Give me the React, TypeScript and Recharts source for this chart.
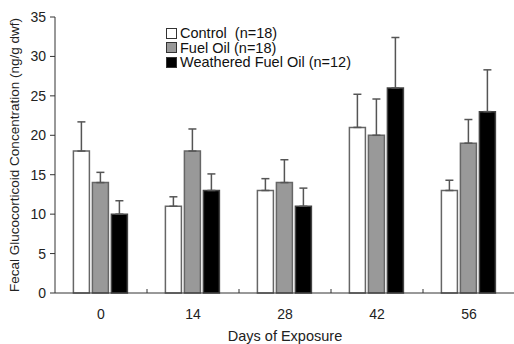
import { BarChart, Bar, XAxis, YAxis, ErrorBar } from 'recharts';

const days = ['0', '14', '28', '42', '56'];
const controlMean = [18, 11, 13, 21, 13];
const controlErr = [3.7, 1.2, 1.5, 4.2, 1.3];
const fuelMean = [14, 18, 14, 20, 19];
const fuelErr = [1.3, 2.8, 2.9, 4.6, 3];
const weatheredMean = [10, 13, 11, 26, 23];
const weatheredErr = [1.7, 2.1, 2.3, 6.4, 5.3];
const yTicks = [0, 5, 10, 15, 20, 25, 30, 35];

const legendItems = [
  { label: 'Control  (n=18)', fill: '#ffffff' },
  { label: 'Fuel Oil (n=18)', fill: '#999999' },
  { label: 'Weathered Fuel Oil (n=12)', fill: '#000000' },
];

const data = days.map((d, i) => ({
  day: d,
  control: controlMean[i],
  controlErr: [0, controlErr[i]],
  fuel: fuelMean[i],
  fuelErr: [0, fuelErr[i]],
  weathered: weatheredMean[i],
  weatheredErr: [0, weatheredErr[i]],
}));

const FONT = 'Arial, "Liberation Sans", sans-serif';

const DayTick = (props: any) => {
  const { x, y, payload, index } = props;
  const half = payload && payload.offset ? payload.offset : 46;
  return (
    <g>
      <text x={x} y={y + 26} textAnchor="middle" fontSize={14} fill="#222" fontFamily={FONT}>
        {payload.value}
      </text>
      {index < days.length - 1 && (
        <line x1={x + half} x2={x + half} y1={y} y2={y - 4} stroke="#333" strokeWidth={1} />
      )}
    </g>
  );
};

const LegendBox = () => (
  <div
    style={{
      position: 'absolute',
      left: 166,
      top: 26,
      fontFamily: FONT,
      fontSize: 14.5,
      color: '#111',
      lineHeight: '14.5px',
    }}
  >
    {legendItems.map((it) => (
      <div key={it.label} style={{ display: 'flex', alignItems: 'center', whiteSpace: 'pre' }}>
        <span
          style={{
            display: 'inline-block',
            width: 9,
            height: 9,
            background: it.fill,
            border: '1px solid #333',
            marginRight: 3,
          }}
        />
        {it.label}
      </div>
    ))}
  </div>
);

export default function App() {
  return (
    <div style={{ position: 'absolute', left: 0, top: 0, width: 514, height: 344, background: '#fff' }}>
      <BarChart
        width={514}
        height={344}
        data={data}
        margin={{ top: 17, right: -1, left: 0, bottom: 0 }}
        barCategoryGap="20%"
        barGap={3}
      >
        <XAxis
          dataKey="day"
          stroke="#333"
          tickSize={0}
          tickMargin={0}
          tick={<DayTick />}
          label={{
            value: 'Days of Exposure',
            position: 'insideBottom',
            offset: 3,
            style: { fontFamily: FONT, fontSize: 14.5, fill: '#222' },
          }}
          height={51}
        />
        <YAxis
          domain={[0, 35]}
          ticks={yTicks}
          width={55}
          stroke="#333"
          tickSize={5}
          tickMargin={4}
          tick={{ fontFamily: FONT, fontSize: 14, fill: '#222' }}
          interval={0}
          label={{
            value: 'Fecal Glucocorticoid Concentration (ng/g dwf)',
            angle: -90,
            position: 'insideLeft',
            offset: 14,
            style: { fontFamily: FONT, fontSize: 13.5, fill: '#222', textAnchor: 'middle' },
          }}
        />
        <Bar dataKey="control" fill="#ffffff" stroke="#666" strokeWidth={1.5} isAnimationActive={false}>
          <ErrorBar dataKey="controlErr" direction="y" width={4} stroke="#555" strokeWidth={1.5} />
        </Bar>
        <Bar dataKey="fuel" fill="#999999" stroke="#666" strokeWidth={1.5} isAnimationActive={false}>
          <ErrorBar dataKey="fuelErr" direction="y" width={4} stroke="#555" strokeWidth={1.5} />
        </Bar>
        <Bar dataKey="weathered" fill="#000000" stroke="#444" strokeWidth={1.5} isAnimationActive={false}>
          <ErrorBar dataKey="weatheredErr" direction="y" width={4} stroke="#555" strokeWidth={1.5} />
        </Bar>
      </BarChart>
      <LegendBox />
    </div>
  );
}
